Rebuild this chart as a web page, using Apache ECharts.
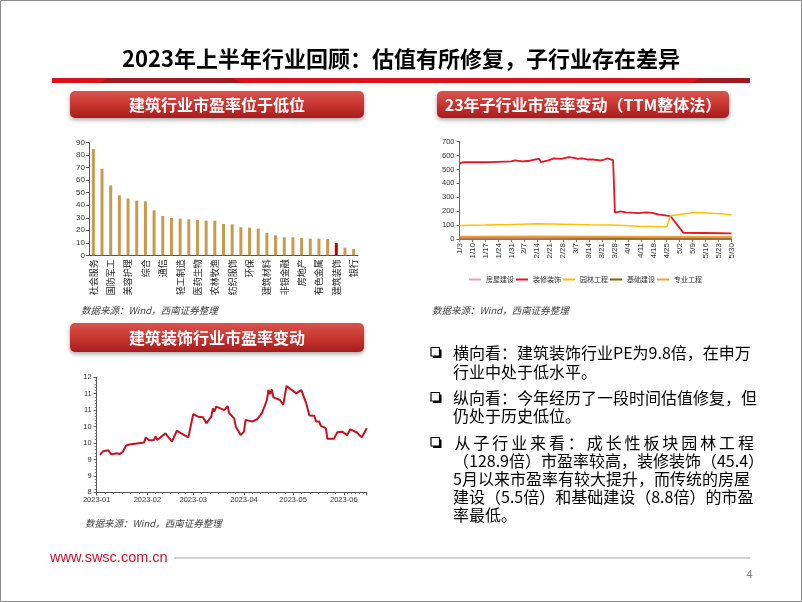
<!DOCTYPE html>
<html><head><meta charset="utf-8">
<script src="https://cdn.jsdelivr.net/npm/echarts@6/dist/echarts.min.js"></script>
<style>html,body{margin:0;padding:0;background:#fff;}#c{width:802px;height:602px;}</style>
</head><body><div id="c"></div>
<script>
// ---------------- data ----------------
const barCategories = ['社会服务','计算机','国防军工','传媒','美容护理','电子','综合','商贸零售','通信','机械设备','轻工制造','电力设备','医药生物','食品饮料','农林牧渔','汽车','纺织服饰','家用电器','环保','基础化工','建筑材料','公用事业','非银金融','交通运输','房地产','钢铁','有色金属','石油石化','建筑装饰','煤炭','银行'];
const barValues = [84.9,69.2,55.9,47.9,45.5,43.7,43.1,35.9,31.4,29.8,29.3,28.8,28.2,27.7,27.7,25.0,24.8,22.4,22.1,21.3,17.8,16.0,14.4,14.4,13.8,13.3,13.3,13.0,9.8,6.1,5.1];
const highlightIndustry = '建筑装饰';

const subAxisStart = [2023, 1, 3];
const subAxisEnd = [2023, 5, 30];
const subSeriesNames = ['房屋建设','装修装饰','园林工程','基础建设','专业工程'];
const houseBuild = [['1/3',6],['2/14',6.5],['3/28',5.8],['5/30',5.5]];
const decoration = [['1/3',542],['1/5',553],['1/17',552],['1/18',542],['1/20',553],['1/31',558],['2/2',566],['2/6',558],['2/9',561],['2/13',572],['2/15',577],['2/16',553],['2/20',566],['2/23',580],['2/24',572],['2/27',577],['3/3',589],['3/6',584],['3/8',577],['3/10',580],['3/13',572],['3/14',566],['3/16',572],['3/17',558],['3/20',566],['3/21',560],['3/22',570],['3/23',584],['3/24',580],['3/27',568],['3/28',190],['3/31',198],['4/3',192],['4/10',186],['4/14',191],['4/17',188],['4/21',176],['4/25',168],['4/26',172],['4/27',165],['5/4',44],['5/15',43],['5/30',41]];
const landscape = [['1/3',97],['1/17',100],['1/31',104],['2/14',109],['2/28',106],['3/14',103],['3/27',101],['3/28',95],['4/10',92],['4/20',89],['4/25',86],['4/26',92],['4/27',168],['5/4',180],['5/10',190],['5/17',187],['5/24',182],['5/30',175]];
const infra = [['1/3',10],['2/14',11],['3/28',9.5],['5/30',8.8]];
const special = [['1/3',16],['2/14',18],['3/28',17],['5/30',15]];

const peDates = ['2023-01-03','2023-01-05','2023-01-08','2023-01-10','2023-01-13','2023-01-15','2023-01-17','2023-01-19','2023-01-21','2023-01-30','2023-01-31','2023-02-02','2023-02-05','2023-02-06','2023-02-07','2023-02-12','2023-02-16','2023-02-19','2023-02-26','2023-03-01','2023-03-04','2023-03-07','2023-03-09','2023-03-12','2023-03-13','2023-03-14','2023-03-15','2023-03-20','2023-03-22','2023-03-23','2023-03-26','2023-03-27','2023-03-30','2023-04-01','2023-04-02','2023-04-06','2023-04-09','2023-04-12','2023-04-15','2023-04-16','2023-04-17','2023-04-18','2023-04-19','2023-04-23','2023-04-25','2023-04-27','2023-05-03','2023-05-06','2023-05-09','2023-05-11','2023-05-14','2023-05-15','2023-05-17','2023-05-18','2023-05-21','2023-05-22','2023-05-26','2023-05-28','2023-05-31','2023-06-03','2023-06-05','2023-06-09','2023-06-12','2023-06-13','2023-06-15'];
const peValues = [9.30,9.43,9.46,9.32,9.36,9.33,9.41,9.63,9.66,9.73,9.91,9.81,9.82,9.94,9.82,10.05,9.76,10.14,9.91,10.72,10.63,10.61,10.40,10.63,10.92,10.81,10.98,10.86,11.00,10.75,10.57,10.28,9.99,10.11,10.52,10.46,10.54,10.75,11.21,11.56,11.41,11.58,11.30,11.21,11.04,11.70,11.44,11.56,11.10,10.67,10.66,10.46,10.46,10.31,10.23,9.86,9.86,10.09,10.11,9.99,10.19,10.08,9.91,9.96,10.23];

// --------------- build ---------------
function buildDayLabels(s, e) {
  const out = [];
  const end = Date.UTC(e[0], e[1]-1, e[2]);
  for (let t = Date.UTC(s[0], s[1]-1, s[2]); t <= end; t += 86400000) {
    const d = new Date(t);
    out.push((d.getUTCMonth()+1) + '/' + d.getUTCDate());
  }
  return out;
}
const subCategories = buildDayLabels(subAxisStart, subAxisEnd);

const CJK = '"Noto Sans CJK SC", sans-serif';
const NUM = '"Liberation Sans", Arial, "Noto Sans CJK SC", sans-serif';

function pill(x, y, w, h, text) {
  return [{
    type: 'rect', shape: {x: x, y: y, width: w, height: h, r: 5},
    style: {
      fill: new echarts.graphic.LinearGradient(0, 0, 0, 1, [
        {offset: 0, color: '#d9534d'}, {offset: 0.5, color: '#c93631'}, {offset: 1, color: '#a71c1c'}]),
      shadowBlur: 4, shadowOffsetY: 2, shadowColor: 'rgba(0,0,0,0.35)'
    }
  }, {
    type: 'text', style: {text: text, x: x + w/2, y: y + h/2, textAlign: 'center', textVerticalAlign: 'middle',
      fill: '#fff', fontSize: 16, fontWeight: 'bold', fontFamily: CJK}
  }];
}
function src(x, y) {
  return {type: 'text', style: {text: '数据来源：Wind，西南证券整理', x: x, y: y, textVerticalAlign: 'middle',
    fill: '#404040', fontSize: 9.5, fontStyle: 'italic', fontFamily: CJK}};
}
function bullet(y) {
  return [
    {type: 'rect', shape: {x: 433, y: y - 3.5, width: 8.5, height: 8.5}, style: {fill: '#000'}},
    {type: 'rect', shape: {x: 431, y: y - 5.5, width: 8.5, height: 8.5}, style: {fill: '#fff', stroke: '#000', lineWidth: 1.2}}
  ];
}
function line(text, y) {
  return {type: 'text', style: {text: text, x: 453, y: y, textVerticalAlign: 'middle', fill: '#000', fontSize: 16, fontFamily: CJK}};
}
const justified = '从子行业来看：成长性板块园林工程';
const justRich = justified.split('').map(c => '{j|' + c + '}').join('');

const graphics = [
  {type: 'rect', shape: {x: 0.5, y: 0.5, width: 801, height: 601}, style: {fill: 'none', stroke: '#8c8c8c', lineWidth: 1}},
  {type: 'text', style: {text: '2023年上半年行业回顾：估值有所修复，子行业存在差异', x: 401, y: 59, textAlign: 'center', textVerticalAlign: 'middle',
    fill: '#000', fontSize: 22, fontWeight: 'bold', fontFamily: CJK}},
  {type: 'rect', shape: {x: 52, y: 78, width: 698, height: 5}, style: {fill: '#d9121c'}},
  {type: 'polygon', shape: {points: [[108,78],[232,78],[242,83],[100,83]]}, style: {fill: '#9c1b1d'}},
  {type: 'polygon', shape: {points: [[700,78],[750,78],[750,83],[692,83]]}, style: {fill: '#9c1b1d'}},
  ...pill(70, 91, 294, 27, '建筑行业市盈率位于低位'),
  ...pill(437, 91, 292, 27, '23年子行业市盈率变动（TTM整体法）'),
  ...pill(70, 323, 294, 29, '建筑装饰行业市盈率变动'),
  src(81, 310), src(432, 310), src(85, 523),
  ...bullet(353), ...bullet(398), ...bullet(443),
  line('横向看：建筑装饰行业PE为9.8倍，在申万', 353),
  line('行业中处于低水平。', 372),
  line('纵向看：今年经历了一段时间估值修复，但', 398),
  line('仍处于历史低位。', 416),
  {type: 'text', style: {text: justRich, x: 453, y: 443, textVerticalAlign: 'middle', fill: '#000', fontSize: 16, fontFamily: CJK,
    rich: {j: {fontSize: 16, fontFamily: CJK, fill: '#000', padding: [0, 1.45, 0, 1.45]}}}},
  line('（128.9倍）市盈率较高，装修装饰（45.4）', 461),
  line('5月以来市盈率有较大提升，而传统的房屋', 479),
  line('建设（5.5倍）和基础建设（8.8倍）的市盈', 497),
  line('率最低。', 515),
  {type: 'text', style: {text: 'www.swsc.com.cn', x: 50, y: 558, textVerticalAlign: 'middle', fill: '#d0102a', fontSize: 14.5, fontFamily: NUM}},
  {type: 'line', shape: {x1: 174, y1: 558, x2: 750, y2: 558}, style: {stroke: '#c4c4c4', lineWidth: 1.5}},
  {type: 'text', style: {text: '4', x: 749.5, y: 574.5, textAlign: 'center', textVerticalAlign: 'middle', fill: '#7f7f7f', fontSize: 11, fontFamily: NUM}}
];

const axisLbl = {color: '#333', fontFamily: NUM};
const colorsSub = ['#f49ac1', '#e8141e', '#ffc000', '#7f6000', '#f0a040'];
const subData = [houseBuild, decoration, landscape, infra, special];

const option = {
  animation: false,
  backgroundColor: '#fff',
  grid: [
    {left: 89, top: 142.7, width: 269, height: 112.6},
    {left: 459.5, top: 141.7, width: 272, height: 97.3},
    {left: 96.7, top: 377.3, width: 270, height: 115}
  ],
  legend: {
    data: subSeriesNames, left: 464, top: 271, icon: 'rect', itemWidth: 12, itemHeight: 2, itemGap: 2,
    textStyle: {fontSize: 7, color: '#333', fontFamily: CJK}
  },
  xAxis: [
    {gridIndex: 0, type: 'category', data: barCategories,
      axisLine: {lineStyle: {color: '#555'}}, axisTick: {interval: 1, length: 3, lineStyle: {color: '#555'}},
      axisLabel: {interval: 1, rotate: 90, fontSize: 9, color: '#222', fontFamily: CJK, margin: 4}},
    {gridIndex: 1, type: 'category', data: subCategories, boundaryGap: false,
      axisLine: {lineStyle: {color: '#777'}}, axisTick: {interval: 6, length: 3, lineStyle: {color: '#777'}},
      axisLabel: Object.assign({interval: 6, rotate: 90, fontSize: 8, margin: 4}, axisLbl)},
    {gridIndex: 2, type: 'time', min: '2023-01-01', max: '2023-06-15', minInterval: 28 * 86400000,
      splitLine: {show: false},
      axisLine: {lineStyle: {color: '#555'}}, axisTick: {length: 3, lineStyle: {color: '#555'}},
      minorTick: {show: true, splitNumber: 6, length: 2, lineStyle: {color: '#777'}},
      axisLabel: Object.assign({fontSize: 7.5, margin: 4, formatter: function (v) {
        const d = new Date(v); return d.getFullYear() + '-' + String(d.getMonth() + 1).padStart(2, '0');
      }}, axisLbl)}
  ],
  yAxis: [
    {gridIndex: 0, type: 'value', min: 0, max: 90, interval: 10, splitLine: {show: false},
      axisLine: {show: true, lineStyle: {color: '#555'}}, axisTick: {show: true, length: 3, lineStyle: {color: '#555'}},
      axisLabel: Object.assign({fontSize: 8, margin: 4}, axisLbl)},
    {gridIndex: 1, type: 'value', min: 0, max: 700, interval: 100, splitLine: {show: false},
      axisLine: {show: true, lineStyle: {color: '#666'}}, axisTick: {show: true, length: 3, lineStyle: {color: '#666'}},
      axisLabel: Object.assign({fontSize: 7.5, margin: 5}, axisLbl)},
    {gridIndex: 2, type: 'value', min: 8, max: 12, interval: 4 / 7, splitLine: {show: false},
      axisLine: {show: true, lineStyle: {color: '#555'}}, axisTick: {show: true, length: 3, lineStyle: {color: '#555'}},
      minorTick: {show: true, splitNumber: 5, length: 2, lineStyle: {color: '#777'}},
      axisLabel: Object.assign({fontSize: 7.5, margin: 5, formatter: v => String(Math.round(v))}, axisLbl)}
  ],
  series: [
    {type: 'bar', xAxisIndex: 0, yAxisIndex: 0, barWidth: 3,
      data: barValues.map((v, i) => ({value: v, itemStyle: {color: barCategories[i] === highlightIndustry ? '#c00000' : '#c99a4e'}}))},
    ...subSeriesNames.map((n, i) => ({
      name: n, type: 'line', xAxisIndex: 1, yAxisIndex: 1, symbol: 'none', data: subData[i],
      lineStyle: {color: colorsSub[i], width: i === 1 ? 1.8 : (i >= 3 ? 2 : 1.5)}, itemStyle: {color: colorsSub[i]}
    })),
    {type: 'line', xAxisIndex: 2, yAxisIndex: 2, symbol: 'none',
      data: peDates.map((d, i) => [d, peValues[i]]),
      lineStyle: {color: '#c5121f', width: 2}, itemStyle: {color: '#c5121f'}}
  ],
  graphic: {elements: graphics}
};
const chart = echarts.init(document.getElementById('c'), null, {renderer: 'canvas', width: 802, height: 602});
chart.setOption(option);
</script></body></html>
